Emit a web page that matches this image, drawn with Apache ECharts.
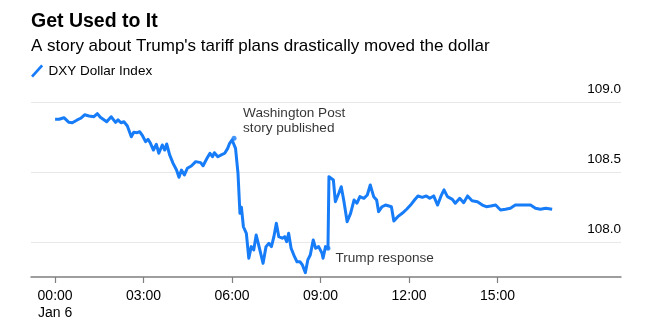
<!DOCTYPE html>
<html>
<head>
<meta charset="utf-8">
<script src="https://cdn.jsdelivr.net/npm/echarts@6/dist/echarts.min.js"></script>
<style>
html,body{margin:0;padding:0;background:#fff;}
#chart{width:650px;height:333px;}
</style>
</head>
<body>
<div id="chart"></div>
<script>
// Minutes after 00:00 Jan 6
var minutes = [0,8,18,22,28,35,45,52,60,69,79,86,92,105,114,123,128,134,140,147,155,160,167,172,177,184,189,194,200,206,211,218,223,227,233,240,247,252,257,263,269,277,286,296,301,309,315,320,324,331,338,345,351,355,360,364,367,372,376,379,383,389,394,399,404,409,414,423,429,435,440,445,450,455,462,467,471,475,480,487,492,498,503,509,514,519,525,530,536,543,545,550,555,557,560,566,570,577,582,587,594,601,608,614,620,628,635,641,648,654,658,665,672,679,684,689,697,706,715,723,731,738,747,755,762,770,778,785,791,798,808,814,823,831,839,848,859,869,877,886,896,906,916,926,936,947,957,967,977,987,998,1011];
var dxy = [108.879,108.879,108.890,108.888,108.857,108.854,108.874,108.886,108.911,108.902,108.897,108.919,108.893,108.861,108.897,108.857,108.874,108.854,108.861,108.831,108.754,108.786,108.783,108.790,108.766,108.719,108.736,108.707,108.659,108.700,108.636,108.695,108.659,108.702,108.624,108.564,108.516,108.464,108.516,108.481,108.529,108.545,108.576,108.569,108.547,108.600,108.636,108.611,108.640,108.611,108.624,108.636,108.671,108.707,108.731,108.743,108.671,108.493,108.207,108.250,108.111,108.064,107.886,107.969,107.945,108.052,107.981,107.850,107.969,107.993,107.969,108.040,108.136,108.040,108.029,108.040,108.004,108.064,107.957,107.897,107.861,107.861,107.838,107.783,107.874,107.909,108.016,107.957,107.969,107.921,107.886,107.969,107.957,108.469,108.474,108.445,108.290,108.350,108.397,108.302,108.147,108.207,108.302,108.279,108.326,108.314,108.338,108.409,108.326,108.302,108.219,108.254,108.266,108.259,108.254,108.152,108.183,108.207,108.236,108.266,108.302,108.331,108.321,108.331,108.314,108.331,108.266,108.331,108.374,108.326,108.307,108.279,108.314,108.283,108.331,108.297,108.290,108.266,108.254,108.259,108.266,108.231,108.236,108.243,108.266,108.266,108.266,108.266,108.243,108.236,108.243,108.236];
var tickMinutes = [0,180,360,540,720,900];
var yTicks = [108.0, 108.5, 109.0];
var annoIndex = [55, 92];
var annoText = ['Washington Post\nstory published', 'Trump response'];
var titleText = 'Get Used to It';
var subtitleText = "A story about Trump's tariff plans drastically moved the dollar";
var seriesName = 'DXY Dollar Index';

var BLUE = '#167cf8';
var FONT = '"Liberation Sans", Arial, Helvetica, sans-serif';

function fmt(m){
  var h = Math.floor(m/60), mm = m%60;
  var s = (h<10?'0':'')+h+':'+(mm<10?'0':'')+mm;
  if (m === 0) s += '\nJan 6';
  return s;
}

var lineData = minutes.map(function(m,i){return [m, dxy[i]];});
var annoOffsets = [[9, -17.5], [7.5, 10]];
var annoData = annoIndex.map(function(idx,k){
  return {
    value: [minutes[idx], dxy[idx]],
    label: {show:true, formatter: annoText[k], offset: annoOffsets[k]}
  };
});

var chart = echarts.init(document.getElementById('chart'), null, {renderer:'canvas'});
chart.setOption({
  animation:false,
  backgroundColor:'#fff',
  title:{
    text:titleText, subtext:subtitleText,
    left:31, top:10, padding:0, itemGap:2,
    textStyle:{fontFamily:FONT, fontSize:19.5, fontWeight:'bold', color:'#000', lineHeight:24},
    subtextStyle:{fontFamily:FONT, fontSize:17, color:'#000', lineHeight:20}
  },
  legend:{
    left:31, top:64, padding:0,
    itemWidth:13, itemHeight:13,
    data:[{name:seriesName, icon:'path://M0,11 L10,0 L12,1.8 L2,12.8 Z'}],
    textStyle:{fontFamily:FONT, fontSize:13.5, color:'#000'}
  },
  grid:[
    {left:31, right:29, top:102.3, bottom:56},
    {left:31, right:29, top:102.3, bottom:20.7}
  ],
  xAxis:[
    {type:'value', gridIndex:0, min:-49, max:1151,
     splitLine:{show:false},
     axisLine:{show:true, lineStyle:{color:'#7f7f7f', width:1.5}},
     axisTick:{show:true, customValues:tickMinutes, length:6, lineStyle:{color:'#7f7f7f', width:1.2}},
     axisLabel:{show:true, customValues:tickMinutes, formatter:fmt, margin:11,
       fontFamily:FONT, fontSize:14, color:'#000', lineHeight:17}
    },
    {type:'value', gridIndex:1, min:-49, max:1151, show:false}
  ],
  yAxis:[
    {type:'value', gridIndex:0, min:107.752, max:109.0, show:false, splitLine:{show:false}},
    {type:'value', gridIndex:1, min:107.5, max:109.0, interval:0.5, position:'right',
     axisLine:{show:false}, axisTick:{show:false},
     splitLine:{show:true, showMinLine:false, showMaxLine:true, lineStyle:{color:'#e8e8e8', width:1}},
     axisLabel:{inside:true, margin:0, showMinLabel:false, showMaxLabel:true,
       verticalAlign:'bottom', padding:[0,0,6,0],
       formatter:function(v){return v.toFixed(1);},
       fontFamily:FONT, fontSize:13.5, color:'#000'}
    }
  ],
  series:[
    {name:seriesName, type:'line', xAxisIndex:0, yAxisIndex:0, data:lineData,
     showSymbol:false, symbol:'none', color:BLUE,
     lineStyle:{color:BLUE, width:3, join:'round'}},
    {name:'anno', type:'scatter', xAxisIndex:0, yAxisIndex:0, data:annoData,
     symbolSize:5, itemStyle:{color:BLUE}, z:5,
     label:{position:'inside', align:'left', verticalAlign:'middle',
       fontFamily:FONT, fontSize:13.6, color:'#000', lineHeight:15}}
  ]
});
</script>
</body>
</html>
